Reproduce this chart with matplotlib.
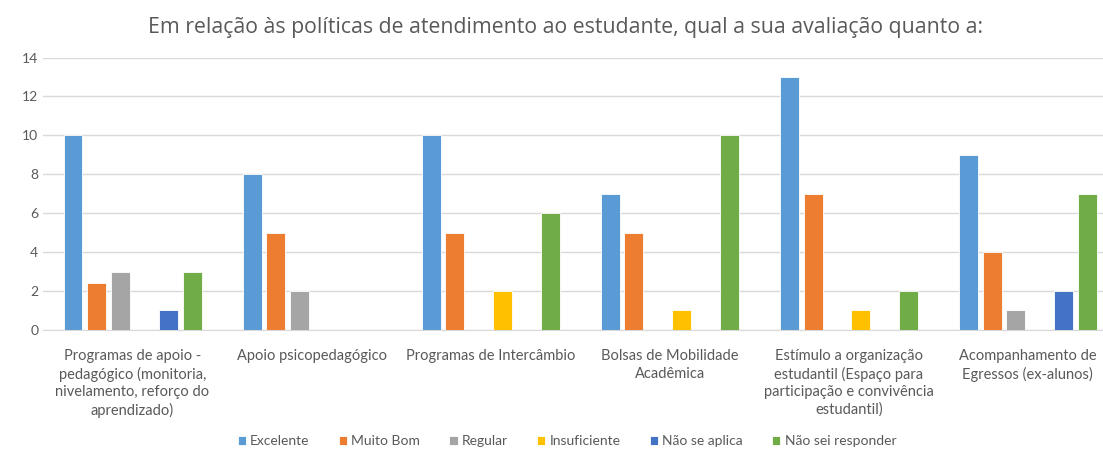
import numpy as np
import matplotlib.pyplot as plt

categories = ["Programas de apoio -\npedagógico (monitoria,\nnivelamento, reforço do\naprendizado)",
              "Apoio psicopedagógico",
              "Programas de Intercâmbio",
              "Bolsas de Mobilidade\nAcadêmica",
              "Estímulo a organização\nestudantil (Espaço para\nparticipação e convivência\nestudantil)",
              "Acompanhamento de\nEgressos (ex-alunos)"]
series_names = ["Excelente", "Muito Bom", "Regular", "Insuficiente", "Não se aplica", "Não sei responder"]
excelente = [10, 8, 10, 7, 13, 9]
muito_bom = [2.4, 5, 5, 5, 7, 4]
regular = [3, 2, 0, 0, 0, 1]
insuficiente = [0, 0, 2, 1, 1, 0]
nao_se_aplica = [1, 0, 0, 0, 0, 2]
nao_sei = [3, 0, 6, 10, 2, 7]
yticks = [0, 2, 4, 6, 8, 10, 12, 14]

colors = ["#5B9BD5", "#ED7D31", "#A5A5A5", "#FFC000", "#4472C4", "#70AD47"]
txt = "#595959"
plt.rcParams['font.family'] = ['Lato', 'DejaVu Sans']

fig = plt.figure(figsize=(11.03, 4.5), dpi=100)
ax = fig.add_axes([0.039, 0.267, 0.974, 0.605])

x = np.arange(len(categories))
step = 0.133
w = 0.106
allseries = [excelente, muito_bom, regular, insuficiente, nao_se_aplica, nao_sei]
for i, vals in enumerate(allseries):
    ax.bar(x + (i - 2.5) * step, vals, w, color=colors[i], label=series_names[i],
           edgecolor='white', linewidth=0.6, zorder=3)

ax.set_xlim(-0.5, 5.5)
ax.set_ylim(0, 14)
ax.set_yticks(yticks)
ax.yaxis.grid(True, color='#D9D9D9', linewidth=1, zorder=0)
ax.set_xticks(x)
ax.set_xticklabels(categories, fontsize=10.5, color=txt, linespacing=1.3)
ax.tick_params(axis='both', length=0, labelcolor=txt)
ax.tick_params(axis='y', labelsize=10)
ax.tick_params(axis='x', pad=14)
for s in ['top', 'right', 'left']:
    ax.spines[s].set_visible(False)
ax.spines['bottom'].set_color('#D9D9D9')

fig.suptitle("Em relação às políticas de atendimento ao estudante, qual a sua avaliação quanto a:",
             x=0.513, y=0.962, fontsize=15.3, color=txt, fontfamily=['Open Sans', 'DejaVu Sans'])

fig.legend(loc='center', bbox_to_anchor=(0.514, 0.02), ncol=6, frameon=False,
           fontsize=10, labelcolor=txt, handlelength=0.6, handleheight=0.6,
           handletextpad=0.3, columnspacing=2.1)

fig.savefig("out.png", dpi=100, facecolor='white')
